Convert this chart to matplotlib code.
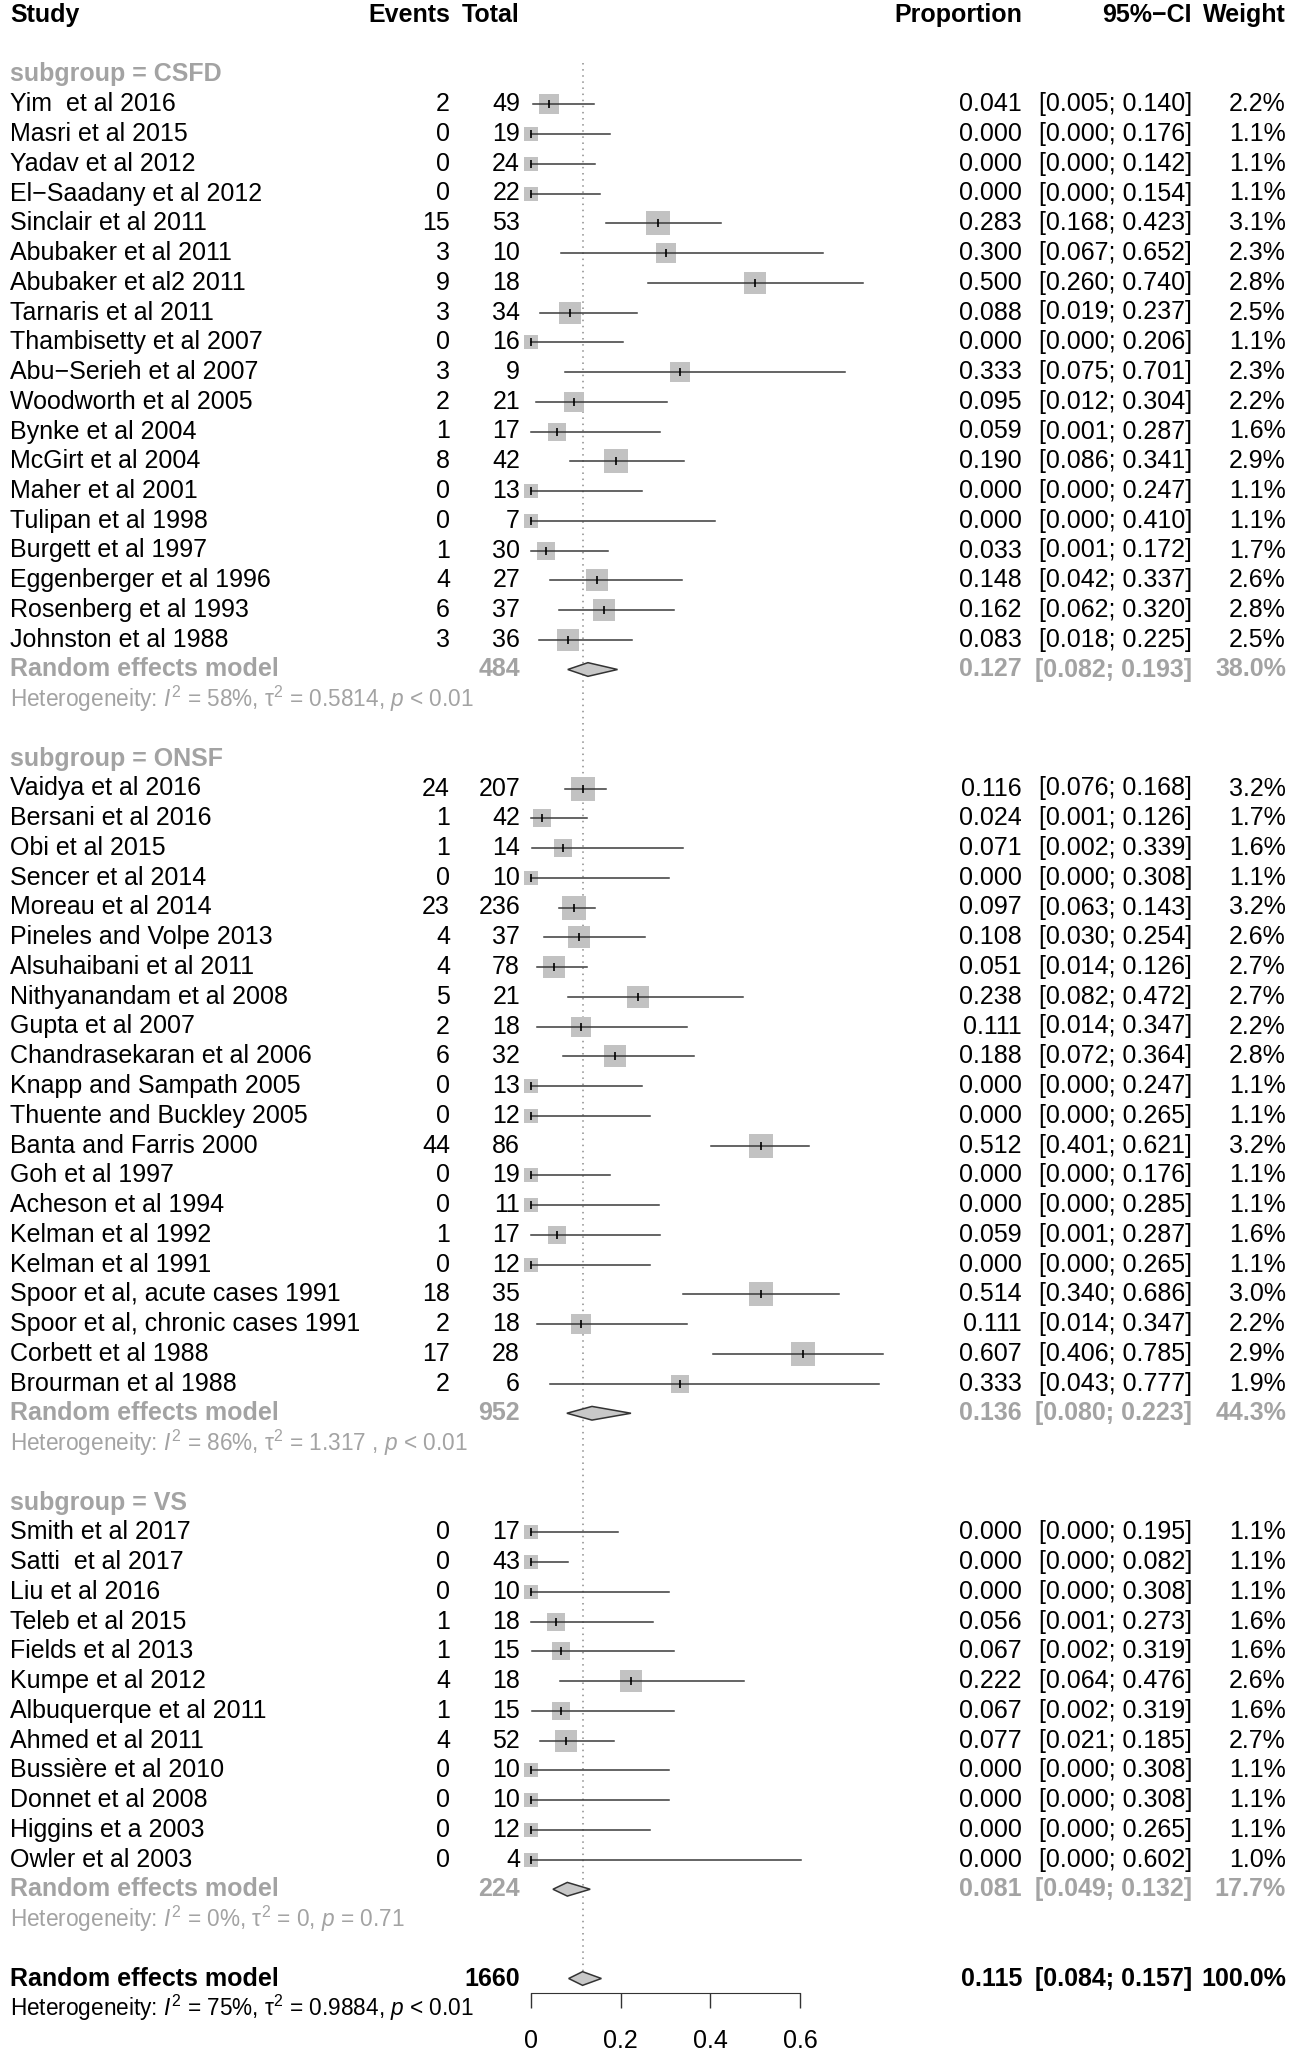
"""Forest plot of event proportions by subgroup (CSFD, ONSF, VS)."""

import numpy as np
import matplotlib
matplotlib.use("Agg")
import matplotlib.pyplot as plt

plt.rcParams["font.family"] = ["Liberation Sans", "DejaVu Sans"]
plt.rcParams["mathtext.fontset"] = "custom"
plt.rcParams["mathtext.rm"] = "Liberation Sans"
plt.rcParams["mathtext.it"] = "Liberation Sans:italic"
plt.rcParams["mathtext.bf"] = "Liberation Sans:bold"

# --- data -------------------------------------------------------------------
group = ["CSFD"] * 19 + ["ONSF"] * 21 + ["VS"] * 12
study = [
    "Yim  et al 2016", "Masri et al 2015", "Yadav et al 2012", "El\u2212Saadany et al 2012",
    "Sinclair et al 2011", "Abubaker et al 2011", "Abubaker et al2 2011", "Tarnaris et al 2011",
    "Thambisetty et al 2007", "Abu\u2212Serieh et al 2007", "Woodworth et al 2005", "Bynke et al 2004",
    "McGirt et al 2004", "Maher et al 2001", "Tulipan et al 1998", "Burgett et al 1997",
    "Eggenberger et al 1996", "Rosenberg et al 1993", "Johnston et al 1988",
    "Vaidya et al 2016", "Bersani et al 2016", "Obi et al 2015", "Sencer et al 2014",
    "Moreau et al 2014", "Pineles and Volpe 2013", "Alsuhaibani et al 2011", "Nithyanandam et al 2008",
    "Gupta et al 2007", "Chandrasekaran et al 2006", "Knapp and Sampath 2005", "Thuente and Buckley 2005",
    "Banta and Farris 2000", "Goh et al 1997", "Acheson et al 1994", "Kelman et al 1992",
    "Kelman et al 1991", "Spoor et al, acute cases 1991", "Spoor et al, chronic cases 1991",
    "Corbett et al 1988", "Brourman et al 1988",
    "Smith et al 2017", "Satti  et al 2017", "Liu et al 2016", "Teleb et al 2015",
    "Fields et al 2013", "Kumpe et al 2012", "Albuquerque et al 2011", "Ahmed et al 2011",
    "Bussi\u00e8re et al 2010", "Donnet et al 2008", "Higgins et a 2003", "Owler et al 2003",
]
events = [2, 0, 0, 0, 15, 3, 9, 3, 0, 3, 2, 1, 8, 0, 0, 1, 4, 6, 3,
          24, 1, 1, 0, 23, 4, 4, 5, 2, 6, 0, 0, 44, 0, 0, 1, 0, 18, 2, 17, 2,
          0, 0, 0, 1, 1, 4, 1, 4, 0, 0, 0, 0]
total = [49, 19, 24, 22, 53, 10, 18, 34, 16, 9, 21, 17, 42, 13, 7, 30, 27, 37, 36,
         207, 42, 14, 10, 236, 37, 78, 21, 18, 32, 13, 12, 86, 19, 11, 17, 12, 35, 18, 28, 6,
         17, 43, 10, 18, 15, 18, 15, 52, 10, 10, 12, 4]
prop = [0.041, 0.000, 0.000, 0.000, 0.283, 0.300, 0.500, 0.088, 0.000, 0.333,
        0.095, 0.059, 0.190, 0.000, 0.000, 0.033, 0.148, 0.162, 0.083,
        0.116, 0.024, 0.071, 0.000, 0.097, 0.108, 0.051, 0.238, 0.111, 0.188, 0.000,
        0.000, 0.512, 0.000, 0.000, 0.059, 0.000, 0.514, 0.111, 0.607, 0.333,
        0.000, 0.000, 0.000, 0.056, 0.067, 0.222, 0.067, 0.077, 0.000, 0.000, 0.000, 0.000]
ci_lo = [0.005, 0.000, 0.000, 0.000, 0.168, 0.067, 0.260, 0.019, 0.000, 0.075,
         0.012, 0.001, 0.086, 0.000, 0.000, 0.001, 0.042, 0.062, 0.018,
         0.076, 0.001, 0.002, 0.000, 0.063, 0.030, 0.014, 0.082, 0.014, 0.072, 0.000,
         0.000, 0.401, 0.000, 0.000, 0.001, 0.000, 0.340, 0.014, 0.406, 0.043,
         0.000, 0.000, 0.000, 0.001, 0.002, 0.064, 0.002, 0.021, 0.000, 0.000, 0.000, 0.000]
ci_hi = [0.140, 0.176, 0.142, 0.154, 0.423, 0.652, 0.740, 0.237, 0.206, 0.701,
         0.304, 0.287, 0.341, 0.247, 0.410, 0.172, 0.337, 0.320, 0.225,
         0.168, 0.126, 0.339, 0.308, 0.143, 0.254, 0.126, 0.472, 0.347, 0.364, 0.247,
         0.265, 0.621, 0.176, 0.285, 0.287, 0.265, 0.686, 0.347, 0.785, 0.777,
         0.195, 0.082, 0.308, 0.273, 0.319, 0.476, 0.319, 0.185, 0.308, 0.308, 0.265, 0.602]
weight = [2.2, 1.1, 1.1, 1.1, 3.1, 2.3, 2.8, 2.5, 1.1, 2.3, 2.2, 1.6, 2.9, 1.1, 1.1, 1.7, 2.6, 2.8, 2.5,
          3.2, 1.7, 1.6, 1.1, 3.2, 2.6, 2.7, 2.7, 2.2, 2.8, 1.1, 1.1, 3.2, 1.1, 1.1, 1.6, 1.1, 3.0, 2.2, 2.9, 1.9,
          1.1, 1.1, 1.1, 1.6, 1.6, 2.6, 1.6, 2.7, 1.1, 1.1, 1.1, 1.0]

sub_names = ["CSFD", "ONSF", "VS"]
sub_total = [484, 952, 224]
sub_prop = [0.127, 0.136, 0.081]
sub_lo = [0.082, 0.080, 0.049]
sub_hi = [0.193, 0.223, 0.132]
sub_weight = [38.0, 44.3, 17.7]
sub_i2 = ["58%", "86%", "0%"]
sub_tau2 = ["0.5814", "1.317 ", "0"]
sub_p = ["< 0.01", "< 0.01", "= 0.71"]

all_total = 1660
all_prop, all_lo, all_hi, all_weight = 0.115, 0.084, 0.157, 100.0
all_i2, all_tau2, all_p = "75%", "0.9884", "< 0.01"

x_ticks = [0, 0.2, 0.4, 0.6]

# --- layout -----------------------------------------------------------------
W, H = 1296, 2052
row_h = 29.75          # px per row
row0 = 15.0            # px of header row centre
x0_px, x6_px = 531, 800  # px of proportion 0 and 0.6
px_per_unit = (x6_px - x0_px) / 0.6

fs = 18
fs_het = 16.3
grey = "#a3a3a3"
sq_col = "#c2c2c2"

fig = plt.figure(figsize=(W / 100, H / 100), dpi=100)
ax = fig.add_axes([0, 0, 1, 1])
ax.set_xlim(-x0_px / px_per_unit, (W - x0_px) / px_per_unit)
ax.set_ylim((H - row0) / row_h, -row0 / row_h)
ax.axis("off")
tr = ax.get_yaxis_transform()  # x in axes fraction, y in rows

col_study = 10 / W
col_events = 450 / W
col_total = 520 / W
col_prop = 1022 / W
col_ci = 1192 / W
col_weight = 1286 / W


def row_text(r, name, ev, tot, p, lo, hi, w, color="black", weight_="normal"):
    kw = dict(transform=tr, va="center", fontsize=fs, color=color, fontweight=weight_)
    ax.text(col_study, r, name, ha="left", **kw)
    if ev is not None:
        ax.text(col_events, r, str(ev), ha="right", **kw)
    ax.text(col_total, r, str(tot), ha="right", **kw)
    ax.text(col_prop, r, f"{p:.3f}", ha="right", **kw)
    ax.text(col_ci, r, f"[{lo:.3f}; {hi:.3f}]", ha="right", **kw)
    ax.text(col_weight, r, f"{w:.1f}%", ha="right", **kw)


def het_text(r, i2, tau2, p, color):
    s = (r"Heterogeneity: $I^2$ = " + i2 + r", $\mathrm{\tau}^2$ = " + tau2
         + r", $p$ " + p)
    ax.text(col_study, r, s, transform=tr, ha="left", va="center", fontsize=fs_het, color=color)


def diamond(r, p, lo, hi):
    h = 0.23
    ax.fill([lo, p, hi, p], [r, r - h, r, r + h], facecolor="#c8c8c8",
            edgecolor="#333333", lw=1.1, zorder=4)


# header
hkw = dict(transform=tr, va="center", fontsize=fs, fontweight="bold")
ax.text(col_study, 0, "Study", ha="left", **hkw)
ax.text(col_events, 0, "Events", ha="right", **hkw)
ax.text(col_total, 0, "Total", ha="right", **hkw)
ax.text(col_prop, 0, "Proportion", ha="right", **hkw)
ax.text(col_ci, 0, "95%\u2212CI", ha="right", **hkw)
ax.text(col_weight, 0, "Weight", ha="right", **hkw)

r = 2
for gi, gname in enumerate(sub_names):
    ax.text(col_study, r, f"subgroup = {gname}", transform=tr, ha="left", va="center",
            fontsize=fs, color=grey, fontweight="bold")
    r += 1
    idx = [i for i, g in enumerate(group) if g == gname]
    for i in idx:
        ax.plot(prop[i], r, marker="s", ms=9.8 * np.sqrt(weight[i]), color=sq_col, mew=0, zorder=2)
        ax.plot([ci_lo[i], ci_hi[i]], [r, r], color="#3a3a3a", lw=1.1, zorder=3)
        ax.plot(prop[i], r, marker="|", ms=6, color="black", mew=1.2, zorder=3)
        row_text(r, study[i], events[i], total[i], prop[i], ci_lo[i], ci_hi[i], weight[i])
        r += 1
    diamond(r, sub_prop[gi], sub_lo[gi], sub_hi[gi])
    row_text(r, "Random effects model", None, sub_total[gi], sub_prop[gi], sub_lo[gi],
             sub_hi[gi], sub_weight[gi], color=grey, weight_="bold")
    r += 1
    het_text(r, sub_i2[gi], sub_tau2[gi], sub_p[gi], grey)
    r += 2

diamond(r, all_prop, all_lo, all_hi)
row_text(r, "Random effects model", None, all_total, all_prop, all_lo, all_hi, all_weight,
         weight_="bold")
het_text(r + 1, all_i2, all_tau2, all_p, "black")

# reference line at the overall estimate
ax.plot([all_prop, all_prop], [1.6, r - 0.25], color="#8c8c8c", lw=1.1,
        linestyle=(0, (1, 3)), zorder=1)

# x axis
axis_px = 1993
ax_x = fig.add_axes([0, 1 - axis_px / H, 1, 0.001])
ax_x.set_xlim(ax.get_xlim())
ax_x.patch.set_visible(False)
for side in ("top", "left", "right"):
    ax_x.spines[side].set_visible(False)
ax_x.spines["bottom"].set_bounds(x_ticks[0], x_ticks[-1])
ax_x.spines["bottom"].set_color("#333333")
ax_x.set_yticks([])
ax_x.set_xticks(x_ticks)
ax_x.set_xticklabels(["0", "0.2", "0.4", "0.6"], fontsize=fs)
ax_x.tick_params(axis="x", length=11, width=1, color="#333333", pad=15)

fig.savefig("out.png", dpi=100)
